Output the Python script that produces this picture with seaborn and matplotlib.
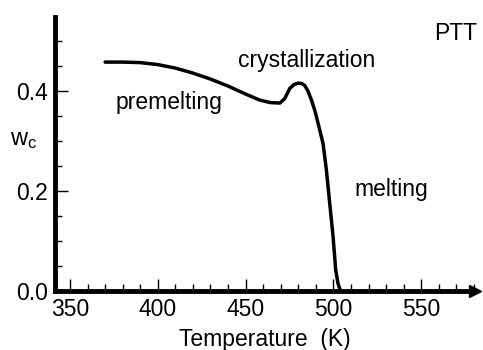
import numpy as np
import pandas as pd
import matplotlib.pyplot as plt
import seaborn as sns
from matplotlib.ticker import MultipleLocator

sns.set_style("ticks", {'axes.edgecolor': 'black', 'xtick.color': 'black',
                        'ytick.color': 'black', 'text.color': 'black',
                        'axes.labelcolor': 'black'})
plt.rcParams['font.family'] = ['Liberation Sans', 'DejaVu Sans']
plt.rcParams['mathtext.fontset'] = 'custom'
plt.rcParams['mathtext.rm'] = 'Liberation Sans'

# crystallinity vs temperature
temperature = [370, 380, 390, 400, 410, 420, 430, 440, 450, 458, 464, 469.5, 472.3,
               475.1, 477.5, 479.9, 482, 483.7, 485.5, 487.5, 489.5, 491.3, 494.1,
               496, 497.9, 499.8, 501.3, 502.6, 504]
wc = [0.458, 0.458, 0.457, 0.453, 0.446, 0.436, 0.424, 0.410, 0.394, 0.382, 0.377,
      0.376, 0.385, 0.405, 0.413, 0.416, 0.415, 0.411, 0.400, 0.382, 0.360, 0.335,
      0.295, 0.242, 0.175, 0.109, 0.042, 0.015, 0.0]

df = pd.DataFrame({'T': temperature, 'wc': wc})

fig = plt.figure(figsize=(4.83, 3.5), dpi=100)
ax = fig.add_axes([0.114, 0.169, 0.869, 0.782])
sns.lineplot(data=df, x='T', y='wc', color='black', linewidth=2.5, ax=ax)

ax.set_xlim(341.5, 580.5)
ax.set_ylim(0, 0.548)
sns.despine(ax=ax)
for s in ['left', 'bottom']:
    ax.spines[s].set_linewidth(3.5)
ax.plot(1, 0, '>k', markersize=9, transform=ax.get_yaxis_transform(), clip_on=False)
ax.plot(0, 1, '^k', markersize=9, transform=ax.get_xaxis_transform(), clip_on=False)

ax.xaxis.set_major_locator(MultipleLocator(50))
ax.xaxis.set_minor_locator(MultipleLocator(10))
ax.yaxis.set_major_locator(MultipleLocator(0.2))
ax.yaxis.set_minor_locator(MultipleLocator(0.05))
ax.yaxis.set_major_formatter(plt.FormatStrFormatter('%.1f'))
ax.tick_params(which='major', direction='in', length=9, width=1, labelsize=16.5, pad=5)
ax.tick_params(which='minor', direction='in', length=5, width=1)
ax.set_xticks([350, 400, 450, 500, 550])

ax.set_xlabel('Temperature  (K)', fontsize=16.5, labelpad=5)
ax.set_ylabel('')
fig.text(0.02, 0.6, r'$\mathrm{w_c}$', fontsize=17, ha='left', va='center')

ax.text(406.5, 0.378, 'premelting', fontsize=16.5, ha='center', va='center')
ax.text(485, 0.462, 'crystallization', fontsize=16.5, ha='center', va='center')
ax.text(533, 0.202, 'melting', fontsize=16.5, ha='center', va='center')
ax.text(557.5, 0.516, 'PTT', fontsize=16.5, ha='left', va='center')

fig.savefig('out.png', dpi=100)
